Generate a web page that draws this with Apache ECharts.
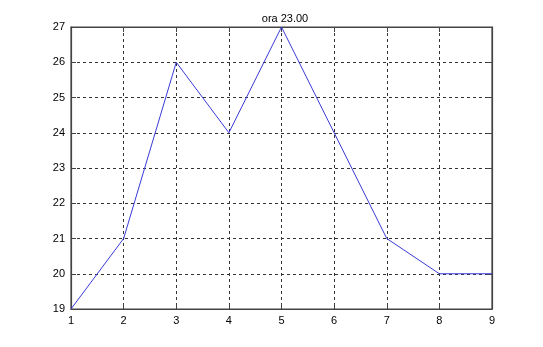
<!DOCTYPE html>
<html><head><meta charset="utf-8">
<script src="https://cdn.jsdelivr.net/npm/echarts@6/dist/echarts.min.js"></script>
<style>html,body{margin:0;padding:0;background:#fff}#c{width:543px;height:347px}</style>
</head><body><div id="c"></div>
<script>
var titleText = "ora 23.00";
var xValues = [1, 2, 3, 4, 5, 6, 7, 8, 9];
var yValues = [19, 21, 26, 24, 27, 24, 21, 20, 20];

var chart = echarts.init(document.getElementById('c'));
var lbl = {color: '#000', fontFamily: 'Arial, Liberation Sans, sans-serif', fontSize: 11};
var split = {show: true, lineStyle: {color: '#333', type: [3, 3], width: 1}};
var axLine = {show: true, lineStyle: {color: '#444', width: 1.2}};
var tick = {show: true, inside: true, length: 5, lineStyle: {color: '#444'}};
chart.setOption({
  animation: false,
  title: {text: titleText, left: 280, top: 8, textAlign: 'center',
    textStyle: {fontSize: 11, fontWeight: 'normal', color: '#000', fontFamily: 'Arial, Liberation Sans, sans-serif'}},
  grid: {left: 71, right: 51, top: 27, bottom: 38, show: true, borderColor: '#444', borderWidth: 1.2},
  xAxis: [{type: 'value', min: 1, max: 9, interval: 1, axisLine: axLine, axisTick: tick,
    axisLabel: Object.assign({margin: 6}, lbl), splitLine: split},
    {type: 'value', position: 'top', min: 1, max: 9, interval: 1, axisLine: axLine, axisTick: tick,
    axisLabel: {show: false}, splitLine: {show: false}}],
  yAxis: [{type: 'value', min: 19, max: 27, interval: 1, axisLine: axLine, axisTick: tick,
    axisLabel: Object.assign({margin: 6}, lbl), splitLine: split},
    {type: 'value', position: 'right', min: 19, max: 27, interval: 1, axisLine: axLine, axisTick: tick,
    axisLabel: {show: false}, splitLine: {show: false}}],
  series: [{type: 'line', data: xValues.map(function(x, i){return [x, yValues[i]];}),
    symbol: 'none', lineStyle: {color: '#3a3ad8', width: 1}}]
});
</script></body></html>
